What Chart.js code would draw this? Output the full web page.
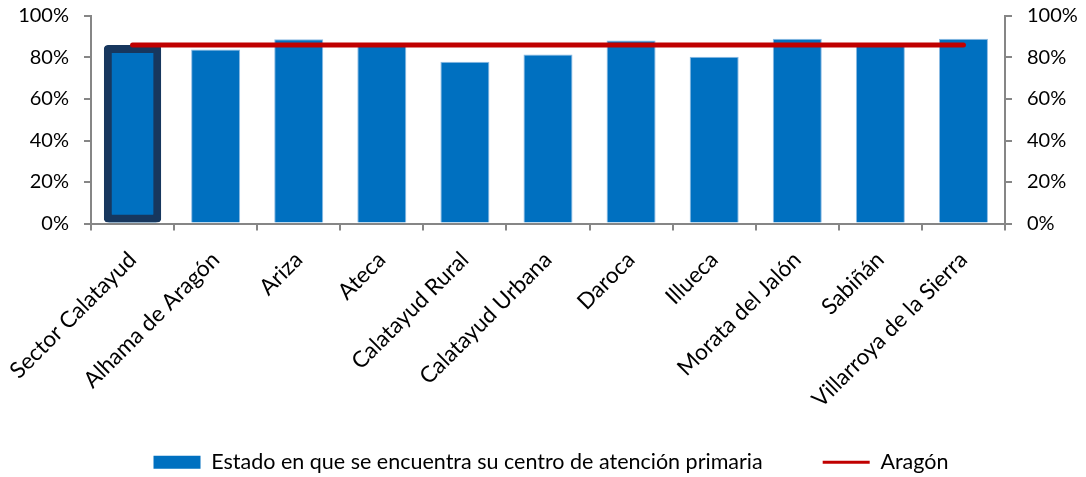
<!DOCTYPE html>
<html lang="es">
<head>
  <meta charset="UTF-8" />
  <title>Estado del centro de atención primaria</title>
  <script src="https://cdn.jsdelivr.net/npm/chart.js"></script>
  <style>
    body {
      margin: 0;
      background: #fff;
    }
    .wrap {
      width: 1086px;
      height: 477px;
    }
  </style>
</head>
<body>

<div class="wrap">
  <canvas id="centroChart" width="1086" height="477"></canvas>
</div>

<script>
  const zonas = [
    'Sector Calatayud', 'Alhama de Aragón', 'Ariza', 'Ateca', 'Calatayud Rural',
    'Calatayud Urbana', 'Daroca', 'Illueca', 'Morata del Jalón', 'Sabiñán',
    'Villarroya de la Sierra'
  ];
  const estadoCentro = [86, 83.8, 88.8, 86.5, 78, 81.4, 88.2, 80.4, 89, 86.5, 89];
  const aragon = [86, 86, 86, 86, 86, 86, 86, 86, 86, 86, 86];
  const pctTicks = [0, 20, 40, 60, 80, 100];

  const azul = '#0070C0';
  const rojo = '#C00000';
  const gris = '#868686';
  const fuente = 'Lato, "Open Sans", sans-serif';

  // the sector total gets a wider framed bar on top of the normal one
  const resaltado = estadoCentro.map((v, i) => i === 0 ? v : null);

  const ejeY = (pos) => ({
    type: 'linear',
    position: pos,
    min: 0,
    max: 100,
    afterBuildTicks: s => { s.ticks = pctTicks.map(v => ({ value: v })); },
    afterFit: s => {
      s.width = pos === 'left' ? 75 : 81;
      s.paddingTop = 4;
      s.paddingBottom = 4;
    },
    grid: { drawOnChartArea: false, tickLength: 7, color: gris, lineWidth: 2 },
    border: { color: gris, width: 2 },
    ticks: {
      padding: 15,
      color: '#000',
      font: { family: fuente, size: 20 },
      callback: v => v + '%'
    }
  });

  // long rotated names run down past the axis box, so let them draw there
  const etiquetasLibres = {
    id: 'etiquetasLibres',
    afterLayout: chart => { chart.scales.x.bottom = chart.height; }
  };

  new Chart(document.getElementById('centroChart'), {
    data: {
      labels: zonas,
      datasets: [
        {
          type: 'bar',
          label: 'Estado en que se encuentra su centro de atención primaria',
          data: estadoCentro,
          backgroundColor: azul,
          borderColor: '#8DBBE3',
          borderWidth: 1,
          barPercentage: 0.59,
          categoryPercentage: 1,
          grouped: false,
          pointStyle: 'rect',
          order: 2,
          yAxisID: 'y'
        },
        {
          type: 'line',
          label: 'Aragón',
          data: aragon,
          borderColor: rojo,
          backgroundColor: rojo,
          borderWidth: 5,
          borderCapStyle: 'round',
          pointRadius: 0,
          pointStyle: 'line',
          order: 0,
          yAxisID: 'y'
        },
        {
          type: 'bar',
          label: 'resaltado',
          data: resaltado,
          backgroundColor: azul,
          borderColor: '#17375E',
          borderWidth: 8,
          borderRadius: 4,
          borderSkipped: false,
          barPercentage: 0.69,
          categoryPercentage: 1,
          grouped: false,
          order: 1,
          yAxisID: 'y'
        }
      ]
    },
    plugins: [etiquetasLibres],
    options: {
      responsive: false,
      animation: false,
      layout: { padding: { top: 16, left: 16, bottom: -6 } },
      scales: {
        x: {
          afterFit: s => {
            s.height = 168;
            s.paddingLeft = 0;
            s.paddingRight = 0;
          },
          grid: { drawOnChartArea: false, offset: true, tickLength: 7, color: gris, lineWidth: 2 },
          border: { color: gris, width: 2 },
          ticks: {
            minRotation: 45,
            maxRotation: 45,
            padding: 16,
            color: '#000',
            font: { family: fuente, size: 22.5 }
          }
        },
        y: ejeY('left'),
        y2: ejeY('right')
      },
      plugins: {
        tooltip: { enabled: false },
        legend: {
          position: 'bottom',
          labels: {
            usePointStyle: true,
            pointStyleWidth: 47,
            boxHeight: 13,
            padding: 60,
            color: '#000',
            font: { family: fuente, size: 21.5 },
            filter: item => item.text !== 'resaltado',
            sort: (a, b) => a.datasetIndex - b.datasetIndex,
            generateLabels: chart => {
              const items = Chart.defaults.plugins.legend.labels.generateLabels(chart);
              items.forEach(it => {
                if (it.pointStyle === 'line') {
                  it.lineWidth = 3;
                  it.strokeStyle = rojo;
                } else {
                  it.lineWidth = 0;
                  it.fillStyle = azul;
                  it.strokeStyle = azul;
                }
              });
              return items;
            }
          }
        }
      }
    }
  });
</script>

</body>
</html>
